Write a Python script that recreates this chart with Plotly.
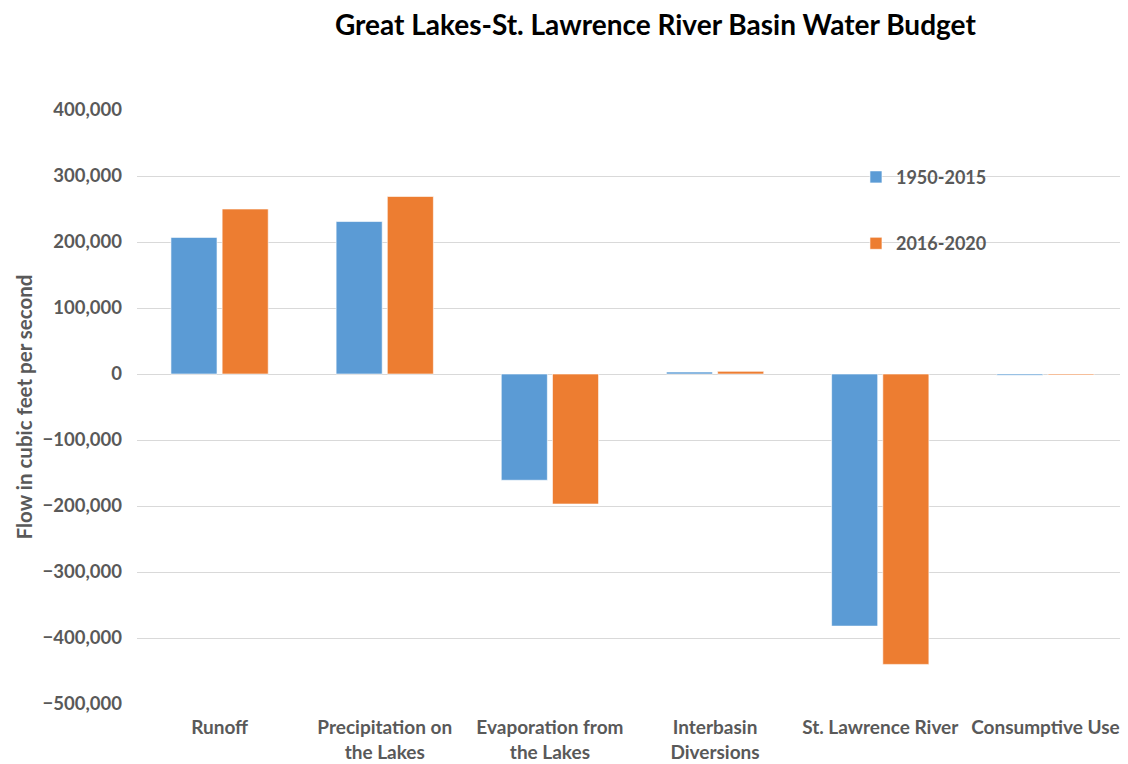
import plotly.graph_objects as go

categories = ["Runoff", "Precipitation on<br>the Lakes", "Evaporation from<br>the Lakes",
              "Interbasin<br>Diversions", "St. Lawrence River", "Consumptive Use"]
series_names = ["1950-2015", "2016-2020"]
flow_1950_2015 = [207000, 231000, -161000, 3000, -382000, -2000]
flow_2016_2020 = [250000, 269000, -197000, 4000, -440000, -1500]
colors = ["#5B9BD5", "#ED7D31"]
tick_vals = [-500000, -400000, -300000, -200000, -100000, 0, 100000, 200000, 300000, 400000]

gray = "#595959"
font_family = "Lato, Open Sans, sans-serif"

fig = go.Figure()
for i, (name, vals) in enumerate(zip(series_names, [flow_1950_2015, flow_2016_2020])):
    fig.add_trace(go.Bar(x=categories, y=vals, name=name, legendgroup=name,
                         marker=dict(color=colors[i], line=dict(color="rgba(255,255,255,0.6)", width=1))))

fig.update_layout(
    width=1120, height=756,
    plot_bgcolor="white", paper_bgcolor="white",
    font=dict(family=font_family, color=gray, size=18, weight="bold"),
    title=dict(text="Great Lakes-St. Lawrence River Basin Water Budget",
               x=0.578, xanchor="center", y=0.977, yanchor="middle",
               font=dict(size=28, color="black", family=font_family, weight="bold")),
    margin=dict(l=129, r=0, t=102, b=60),
    barmode="group", bargap=0.38, bargroupgap=0.1,
    legend=dict(x=0.7255, y=0.918, xanchor="left", yanchor="top", tracegroupgap=40,
                font=dict(size=18, color=gray, weight="bold"), bgcolor="rgba(0,0,0,0)",
                itemwidth=30),
    showlegend=True,
)
fig.update_xaxes(tickfont=dict(size=19, color=gray, weight="bold"), showline=False, ticks="",
                 automargin=False, ticklabelstandoff=10)
fig.update_yaxes(range=[-500000, 400000], tickvals=tick_vals, tickformat=",",
                 gridcolor="#D9D9D9", gridwidth=1, zeroline=True, zerolinecolor="#D9D9D9",
                 zerolinewidth=1, automargin=False, ticklabelstandoff=14,
                 tickfont=dict(size=18.5, color=gray, weight="bold"), ticks="", ticklen=0,
                 title=dict(text="Flow in cubic feet per second", standoff=4,
                            font=dict(size=20.5, color=gray, weight="bold")))

fig.write_html("out.html")
